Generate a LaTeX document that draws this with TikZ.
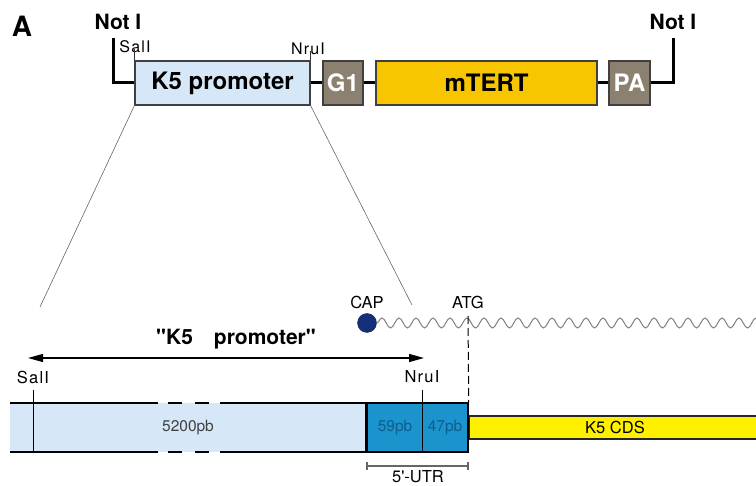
\documentclass[tikz,border=0pt]{standalone}
\usepackage{fontspec}
\setmainfont{TeX Gyre Heros}[Ligatures=TeXOff]
\usetikzlibrary{arrows.meta,positioning,decorations.pathmorphing}
\definecolor{promblue}{HTML}{D6E8F7}
\definecolor{utrblue}{HTML}{1B93CC}
\definecolor{utrtext}{HTML}{0D5F8C}
\definecolor{taupe}{HTML}{8C8070}
\definecolor{tertyellow}{HTML}{F7C600}
\definecolor{cdsyellow}{HTML}{FFF000}
\definecolor{capnavy}{HTML}{15307A}
\newcommand{\salI}{S\kern1.2pt a\kern1.2pt l\kern1.2pt I}
\newcommand{\nruI}{N\kern1.2pt r\kern1.2pt u\kern1.2pt I}
\tikzset{
  >={Triangle[length=15pt,width=8pt]},
  % konstrukt
  part/.style={draw=black!75,line width=1.2pt,minimum height=44pt,inner sep=0pt,
               font=\fontsize{24}{26}\selectfont\bfseries},
  grey part/.style={part,fill=taupe,text=white},
  bone/.style={draw=black,line width=3pt},
  site/.style={font=\fontsize{16}{18}\selectfont,inner sep=1pt},
  tick/.style={draw=black!80,line width=0.8pt},
  zoomline/.style={draw=black!60,line width=0.6pt},
  % gen
  big/.style={font=\fontsize{21}{23}\selectfont\bfseries,inner sep=1pt},
  lab/.style={font=\fontsize{16.5}{18}\selectfont,inner sep=1pt},
  len/.style={font=\fontsize{15.5}{17}\selectfont,inner sep=1pt},
  edge/.style={draw=black,line width=2pt},
  mrna/.style={draw=black!50,line width=1pt,decorate,
               decoration={snake,amplitude=5pt,segment length=17pt}},
}
\begin{document}
\begin{tikzpicture}[x=1pt,y=-1pt]
\useasboundingbox (0,0) rectangle (756,486);
  \node[font=\fontsize{28}{30}\selectfont\bfseries] (panel) at (22,26) {A};
  % konstrukt
  \coordinate (notl) at (113,38);
  \coordinate (notr) at (673,38);
  \node[part,fill=promblue,minimum width=175pt] (prom) at (222.5,83) {K5 promoter};
  \node[grey part,minimum width=40pt] (g1) at (343,83) {G1};
  \node[part,fill=tertyellow,minimum width=221pt] (tert) at (486.5,83) {mTERT};
  \node[grey part,minimum width=41pt] (pa) at (629.5,83) {PA};
  \draw[bone] (notl) |- (prom.west);
  \draw[bone] (prom) -- (g1);
  \draw[bone] (g1) -- (tert);
  \draw[bone] (tert) -- (pa);
  \draw[bone] (pa.east) -| (notr);
  \node[big] (notIl) at (118,22) {Not I};
  \node[big] (notIr) at (673,22) {Not I};
  \node[site] (sal1) at (135,47) {\salI};
  \node[site] (nru1) at (308,49) {\nruI};
  \draw[tick] (prom.north west) -- ++(0,-11);
  \draw[tick] (prom.north east) -- ++(0,-9);
  \coordinate (zl) at (40,307);
  \coordinate (zr) at (412,305);
  \draw[zoomline] (prom.south west) -- (zl);
  \draw[zoomline] (prom.south east) -- (zr);
  % mRNA
  \node[circle,fill=capnavy,draw=capnavy!70!black,minimum size=19pt,inner sep=0pt] (cap) at (367,323) {};
  \coordinate (tail) at (770,323);
  \draw[mrna] (cap.east) -- (tail);
  \node[lab] (caplab) at (367,302) {CAP};
  \node[lab] (atg) at (468,302) {ATG};
  % gen
  \coordinate (pl) at (28,358);
  \coordinate (pr) at (424,358);
  \draw[<->,line width=1.3pt] (pl) -- (pr);
  \node[font=\fontsize{21}{23}\selectfont\bfseries] (promlab) at (236,339) {"K5\quad promoter"};
  \fill[promblue] (10,403) rectangle (367,452);
  \foreach \y in {403,452} {
    \draw[edge] (10,\y) -- (158,\y);
    \draw[edge] (168,\y) -- (182,\y);
    \draw[edge] (195,\y) -- (209,\y);
    \draw[edge] (220,\y) -- (367,\y);
  }
  \node[len,text=black!75] (kb) at (188,428) {5200pb};
  \node[draw=black,line width=1.5pt,fill=utrblue,minimum width=101pt,minimum height=49pt,inner sep=0pt] (utr) at (417.5,427.5) {};
  \draw[line width=3.5pt] (utr.north west) -- (utr.south west);
  \node[draw=black!85,line width=1.5pt,fill=cdsyellow,minimum width=300pt,minimum height=23pt,
        anchor=west,inner sep=0pt] (cds) at (utr.east) {};
  \node[lab] (cdslab) at (615,427) {K5 CDS};
  \node[len,text=utrtext] (u59) at (395,428) {59pb};
  \node[len,text=utrtext] (u47) at (445,428) {47pb};
  \coordinate (nrutop) at (422,390);
  \draw[line width=0.8pt] (nrutop) -- (422,452);
  \node[lab] (nru2) at (422,377) {\nruI};
  \coordinate (saltop) at (33,390);
  \draw[line width=0.8pt] (saltop) -- (33,452);
  \node[lab] (sal2) at (33,377) {\salI};
  \coordinate (atgtop) at (468,316);
  \draw[line width=1pt,dash pattern=on 8pt off 4pt] (atgtop) -- (utr.north east);
  \draw[{Bar[width=8pt]}-{Bar[width=8pt]},draw=black!60,line width=1.3pt] (utr.south west |- 0,466) -- (utr.south east |- 0,466);
  \node[lab] (utrlab) at (418,477) {5'-UTR};
\end{tikzpicture}
\end{document}
